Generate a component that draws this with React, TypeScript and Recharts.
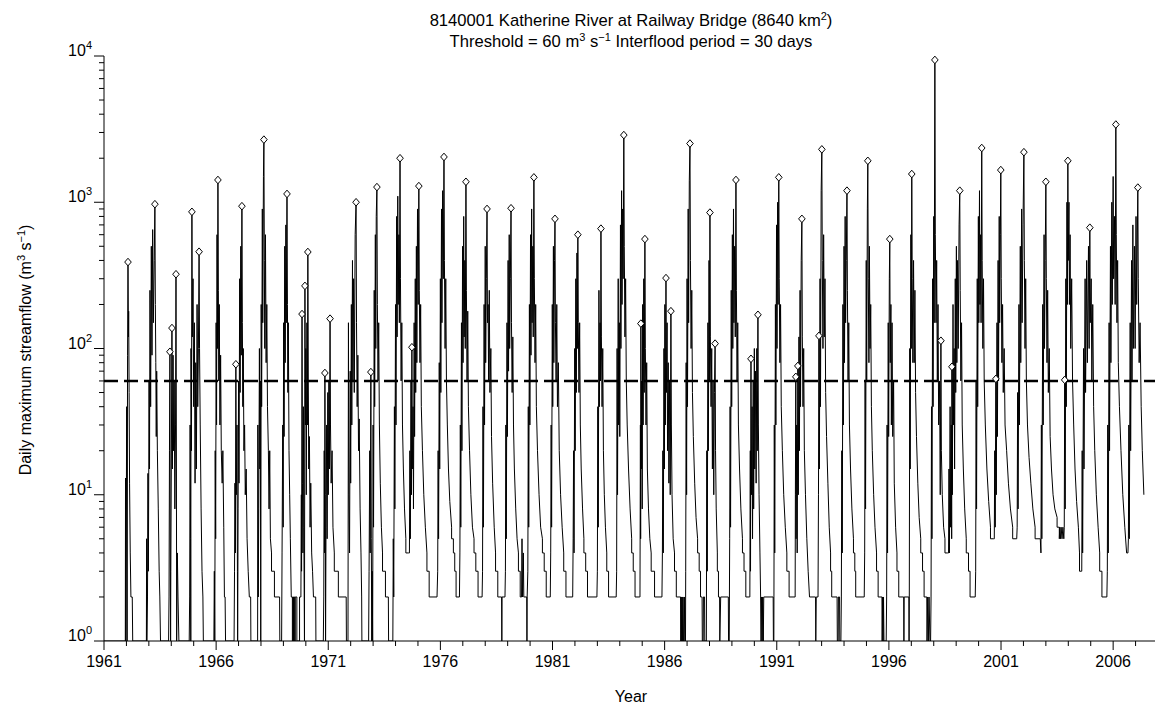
import React from 'react';
import { ComposedChart, Line, Scatter, XAxis, YAxis, ReferenceLine } from 'recharts';

// Daily maximum streamflow (m3/s), [decimal year, flow] pairs
const flow1960s: [number, number][] = [
  [1961.0,1],[1961.95,1],[1961.96,13],[1961.97,1],[1961.99,4],[1962.01,40],[1962.03,1],[1962.05,90],[1962.07,390],[1962.09,120],[1962.1,180],[1962.12,50],[1962.14,12],[1962.17,4],[1962.2,2],[1962.26,2],[1962.28,1],
  [1962.89,1],[1962.9,5],[1962.91,1],[1962.94,2],[1962.96,14],[1962.98,3],[1963.01,60],[1963.03,15],[1963.05,250],[1963.08,40],[1963.11,500],[1963.14,90],[1963.17,650],[1963.2,150],[1963.24,400],[1963.27,970],[1963.29,200],[1963.31,80],[1963.33,25],[1963.35,70],[1963.38,20],[1963.42,8],[1963.46,3],[1963.49,2],[1963.52,1],
  [1963.88,1],[1963.9,2],[1963.92,20],[1963.94,95],[1963.95,8],[1963.97,1],[1963.98,3],[1964.03,138],[1964.05,15],[1964.08,90],[1964.1,20],[1964.13,60],[1964.16,8],[1964.19,30],[1964.21,322],[1964.23,15],[1964.24,1],[1964.27,4],[1964.3,2],[1964.34,1],
  [1964.8,1],[1964.82,2],[1964.84,30],[1964.86,5],[1964.87,1],[1964.88,100],[1964.9,20],[1964.92,860],[1964.94,120],[1964.97,300],[1965.0,40],[1965.03,150],[1965.06,12],[1965.09,80],[1965.12,15],[1965.15,200],[1965.18,40],[1965.21,100],[1965.24,459],[1965.26,100],[1965.29,30],[1965.33,8],[1965.37,3],[1965.41,2],[1965.43,1],
  [1965.9,1],[1965.92,3],[1965.94,1],[1965.96,20],[1965.98,5],[1966.0,150],[1966.02,30],[1966.04,600],[1966.06,100],[1966.08,1420],[1966.1,250],[1966.12,60],[1966.14,200],[1966.17,30],[1966.2,90],[1966.23,20],[1966.27,12],[1966.3,20],[1966.34,6],[1966.37,2],[1966.4,2],[1966.42,1],
  [1966.8,1],[1966.82,3],[1966.84,12],[1966.86,4],[1966.88,78],[1966.9,10],[1966.93,30],[1966.95,3],[1966.96,1],[1966.98,8],[1967.0,60],[1967.02,12],[1967.05,300],[1967.07,50],[1967.1,500],[1967.12,90],[1967.15,940],[1967.17,150],[1967.19,40],[1967.21,100],[1967.24,20],[1967.27,30],[1967.3,10],[1967.34,15],[1967.38,5],[1967.43,3],[1967.48,2],[1967.54,2],[1967.55,1],
  [1967.85,1],[1967.86,30],[1967.88,2],[1967.9,8],[1967.93,100],[1967.95,15],[1967.97,60],[1967.99,1],[1968.01,200],[1968.03,40],[1968.06,900],[1968.08,150],[1968.11,1500],[1968.13,2680],[1968.15,400],[1968.17,100],[1968.2,600],[1968.23,80],[1968.26,200],[1968.29,40],[1968.33,20],[1968.36,8],[1968.39,20],[1968.42,5],[1968.47,4],[1968.47,3],[1968.6,3],[1968.6,2],[1968.83,2],[1968.84,1],
  [1968.92,1],[1968.94,4],[1968.97,30],[1968.99,6],[1969.01,150],[1969.03,25],[1969.06,500],[1969.08,80],[1969.11,700],[1969.13,150],[1969.16,1140],[1969.18,200],[1969.2,50],[1969.22,150],[1969.25,20],[1969.28,10],[1969.31,5],[1969.35,2],[1969.4,2],[1969.4,1],[1969.42,1],[1969.42,2],[1969.45,2],[1969.45,1],[1969.47,1],[1969.47,2],[1969.5,2],[1969.5,1],[1969.53,1],[1969.53,2],[1969.6,2],[1969.6,1],[1969.7,1],
];

const flow1970s: [number, number][] = [
  [1969.72,1],[1969.72,2],[1969.78,2],[1969.8,10],[1969.81,3],[1969.83,172],[1969.85,12],[1969.87,4],[1969.89,40],[1969.91,6],[1969.94,1],[1969.96,268],[1969.98,30],[1970.0,100],[1970.02,10],[1970.05,150],[1970.07,30],[1970.09,457],[1970.11,60],[1970.13,15],[1970.16,25],[1970.19,6],[1970.22,12],[1970.26,4],[1970.3,3],[1970.34,2],[1970.44,2],[1970.45,1],
  [1970.78,1],[1970.8,2],[1970.82,20],[1970.84,4],[1970.85,68],[1970.87,10],[1970.88,1],[1970.9,6],[1970.93,30],[1970.95,5],[1970.98,50],[1971.0,10],[1971.03,60],[1971.05,15],[1971.08,160],[1971.1,30],[1971.13,12],[1971.17,20],[1971.21,6],[1971.27,4],[1971.27,3],[1971.45,3],[1971.45,2],[1971.8,2],[1971.81,1],
  [1971.88,1],[1971.9,150],[1971.92,10],[1971.95,4],[1971.98,70],[1972.0,12],[1972.03,200],[1972.05,30],[1972.08,400],[1972.1,60],[1972.13,300],[1972.16,50],[1972.2,600],[1972.24,1000],[1972.26,150],[1972.29,40],[1972.32,90],[1972.35,20],[1972.38,33],[1972.42,8],[1972.46,4],[1972.49,2],[1972.5,1],[1972.75,1],
  [1972.8,1],[1972.82,3],[1972.85,20],[1972.87,4],[1972.9,69],[1972.92,5],[1972.94,1],[1972.96,3],[1972.98,1],[1973.0,30],[1973.02,6],[1973.05,250],[1973.07,40],[1973.1,600],[1973.12,100],[1973.14,800],[1973.17,1270],[1973.19,200],[1973.22,60],[1973.25,150],[1973.28,30],[1973.32,12],[1973.37,6],[1973.42,4],[1973.42,3],[1973.55,3],[1973.55,2],[1973.68,2],[1973.69,1],
  [1973.88,1],[1973.9,5],[1973.92,2],[1973.95,40],[1973.97,8],[1974.0,200],[1974.02,30],[1974.05,800],[1974.07,120],[1974.1,1100],[1974.12,200],[1974.15,600],[1974.17,150],[1974.2,2000],[1974.22,300],[1974.25,60],[1974.28,150],[1974.31,30],[1974.35,15],[1974.4,8],[1974.46,5],[1974.46,4],[1974.58,4],
  [1974.62,4],[1974.64,20],[1974.66,5],[1974.69,60],[1974.71,10],[1974.73,102],[1974.75,15],[1974.78,40],[1974.8,8],[1974.83,150],[1974.85,25],[1974.88,300],[1974.9,50],[1974.93,500],[1974.95,80],[1974.98,900],[1975.01,200],[1975.04,1290],[1975.06,250],[1975.09,80],[1975.12,200],[1975.15,40],[1975.2,20],[1975.26,10],[1975.33,6],[1975.4,4],[1975.4,3],[1975.5,3],[1975.5,2],[1975.85,2],
  [1975.88,3],[1975.9,20],[1975.92,5],[1975.95,80],[1975.97,15],[1976.0,300],[1976.02,50],[1976.05,900],[1976.07,150],[1976.1,1200],[1976.13,300],[1976.16,2040],[1976.18,400],[1976.21,100],[1976.24,300],[1976.27,60],[1976.31,30],[1976.36,15],[1976.42,9],[1976.5,6],[1976.5,5],[1976.58,5],[1976.58,4],[1976.64,4],[1976.64,3],[1976.7,3],[1976.7,2],[1976.85,2],
  [1976.87,4],[1976.89,30],[1976.91,6],[1976.94,150],[1976.96,20],[1976.99,500],[1977.01,80],[1977.04,800],[1977.06,120],[1977.09,400],[1977.11,100],[1977.14,1380],[1977.16,250],[1977.19,60],[1977.22,180],[1977.25,40],[1977.3,20],[1977.36,10],[1977.43,6],[1977.5,5],[1977.5,4],[1977.58,4],[1977.58,3],[1977.68,3],[1977.68,2],[1977.86,2],
  [1977.88,3],[1977.9,40],[1977.92,6],[1977.95,200],[1977.97,30],[1978.0,500],[1978.02,80],[1978.05,300],[1978.08,900],[1978.1,150],[1978.13,200],[1978.15,60],[1978.18,250],[1978.21,50],[1978.25,100],[1978.28,25],[1978.33,12],[1978.4,6],[1978.46,4],[1978.46,3],[1978.56,3],[1978.56,2],[1978.73,2],[1978.74,1],[1978.75,2],[1978.88,2],
  [1978.9,3],[1978.92,30],[1978.94,5],[1978.97,150],[1978.99,25],[1979.02,400],[1979.04,70],[1979.07,600],[1979.09,100],[1979.12,300],[1979.15,910],[1979.17,150],[1979.2,50],[1979.23,120],[1979.26,30],[1979.3,15],[1979.36,8],[1979.42,5],[1979.48,4],[1979.48,3],[1979.56,3],[1979.56,2],[1979.62,2],[1979.64,5],[1979.66,2],[1979.7,4],[1979.72,2],[1979.85,2],[1979.86,1],[1979.87,2],
];

const flow1980s: [number, number][] = [
  [1979.9,3],[1979.92,40],[1979.94,6],[1979.97,200],[1979.99,30],[1980.02,600],[1980.04,90],[1980.07,900],[1980.09,150],[1980.12,500],[1980.14,120],[1980.17,1480],[1980.19,300],[1980.22,80],[1980.25,200],[1980.28,40],[1980.33,20],[1980.4,10],[1980.47,6],[1980.55,5],[1980.55,4],[1980.63,4],[1980.63,3],[1980.72,3],[1980.72,2],[1980.9,2],
  [1980.92,4],[1980.94,30],[1980.96,6],[1980.99,200],[1981.01,40],[1981.04,500],[1981.06,80],[1981.09,400],[1981.11,770],[1981.13,150],[1981.16,60],[1981.19,200],[1981.22,40],[1981.26,80],[1981.3,20],[1981.36,10],[1981.43,6],[1981.5,4],[1981.5,3],[1981.6,3],[1981.6,2],[1981.9,2],
  [1981.92,5],[1981.94,20],[1981.96,4],[1981.99,100],[1982.01,20],[1982.04,300],[1982.06,50],[1982.09,450],[1982.11,100],[1982.13,600],[1982.15,150],[1982.18,50],[1982.21,150],[1982.24,30],[1982.28,15],[1982.34,8],[1982.4,5],[1982.4,4],[1982.48,4],[1982.48,3],[1982.56,3],[1982.56,2],[1982.98,2],
  [1983.0,3],[1983.02,40],[1983.04,6],[1983.07,250],[1983.09,40],[1983.12,150],[1983.14,60],[1983.16,660],[1983.18,120],[1983.21,40],[1983.24,100],[1983.27,20],[1983.31,10],[1983.36,6],[1983.42,4],[1983.42,3],[1983.5,3],[1983.5,2],[1983.84,2],
  [1983.86,3],[1983.88,100],[1983.9,10],[1983.93,300],[1983.95,30],[1983.98,150],[1984.0,25],[1984.03,700],[1984.05,100],[1984.08,1200],[1984.1,200],[1984.13,900],[1984.15,300],[1984.18,2880],[1984.2,500],[1984.23,120],[1984.26,300],[1984.29,60],[1984.33,30],[1984.39,15],[1984.46,8],[1984.53,5],[1984.53,4],[1984.6,4],[1984.6,3],[1984.68,3],[1984.68,2],[1984.88,2],
  [1984.9,2],[1984.92,30],[1984.93,5],[1984.94,148],[1984.96,15],[1984.98,60],[1985.0,8],[1985.02,200],[1985.04,30],[1985.07,300],[1985.09,50],[1985.12,560],[1985.14,100],[1985.17,30],[1985.2,80],[1985.23,15],[1985.28,8],[1985.34,5],[1985.4,4],[1985.4,3],[1985.55,3],[1985.55,2],[1985.88,2],
  [1985.9,4],[1985.92,20],[1985.94,4],[1985.97,100],[1985.99,15],[1986.01,200],[1986.03,30],[1986.06,303],[1986.08,50],[1986.11,150],[1986.13,20],[1986.16,80],[1986.19,12],[1986.22,60],[1986.25,10],[1986.28,180],[1986.3,30],[1986.33,10],[1986.38,5],[1986.44,4],[1986.44,3],[1986.52,3],[1986.52,2],[1986.71,2],[1986.72,1],[1986.74,2],[1986.76,1],[1986.78,2],[1986.8,1],[1986.82,2],[1986.84,1],[1986.86,1],[1986.88,2],[1986.9,1],[1986.93,1],
  [1986.94,3],[1986.96,80],[1986.98,10],[1987.0,300],[1987.02,40],[1987.05,900],[1987.07,150],[1987.1,1400],[1987.13,2520],[1987.15,400],[1987.18,100],[1987.21,250],[1987.24,50],[1987.28,25],[1987.34,12],[1987.4,7],[1987.47,5],[1987.47,4],[1987.54,4],[1987.54,3],[1987.6,3],[1987.6,2],[1987.67,2],[1987.68,1],[1987.72,1],[1987.73,2],[1987.78,2],[1987.79,1],[1987.84,1],
  [1987.86,1],[1987.88,20],[1987.9,3],[1987.93,150],[1987.95,20],[1987.98,400],[1988.0,60],[1988.02,850],[1988.04,120],[1988.07,40],[1988.1,100],[1988.13,15],[1988.16,60],[1988.19,10],[1988.22,50],[1988.25,108],[1988.27,20],[1988.3,8],[1988.35,4],[1988.35,3],[1988.4,3],[1988.4,2],[1988.45,2],[1988.46,1],[1988.5,2],[1988.84,2],[1988.85,1],
  [1988.88,1],[1988.9,5],[1988.92,40],[1988.94,6],[1988.97,250],[1988.99,40],[1989.02,600],[1989.04,100],[1989.07,900],[1989.09,150],[1989.12,500],[1989.15,120],[1989.18,1420],[1989.2,250],[1989.23,60],[1989.26,150],[1989.29,30],[1989.34,15],[1989.4,8],[1989.47,5],[1989.47,4],[1989.54,4],[1989.54,3],[1989.62,3],[1989.62,2],[1989.78,2],
];

const flow1990s: [number, number][] = [
  [1989.8,2],[1989.82,20],[1989.83,3],[1989.85,85],[1989.87,10],[1989.9,40],[1989.92,5],[1989.95,60],[1989.97,8],[1990.0,100],[1990.02,15],[1990.05,70],[1990.08,12],[1990.11,100],[1990.13,20],[1990.16,170],[1990.18,30],[1990.21,10],[1990.25,4],[1990.28,2],[1990.3,1],[1990.32,2],[1990.35,1],[1990.37,2],[1990.4,1],[1990.42,2],[1990.84,2],[1990.85,1],
  [1990.87,1],[1990.89,30],[1990.91,4],[1990.94,200],[1990.96,30],[1990.99,700],[1991.01,100],[1991.04,1000],[1991.06,200],[1991.09,1480],[1991.11,300],[1991.14,80],[1991.17,200],[1991.2,40],[1991.25,20],[1991.31,10],[1991.38,6],[1991.45,4],[1991.45,3],[1991.55,3],[1991.55,2],[1991.82,2],
  [1991.83,10],[1991.85,64],[1991.86,5],[1991.89,30],[1991.91,4],[1991.94,76],[1991.96,10],[1991.99,120],[1992.01,20],[1992.04,250],[1992.06,40],[1992.09,400],[1992.12,770],[1992.14,120],[1992.17,40],[1992.2,100],[1992.23,20],[1992.28,10],[1992.34,5],[1992.4,3],[1992.46,2],[1992.73,2],[1992.74,1],[1992.76,2],[1992.84,2],
  [1992.86,10],[1992.88,122],[1992.9,15],[1992.93,300],[1992.95,40],[1992.98,1200],[1993.01,2300],[1993.03,400],[1993.06,100],[1993.09,600],[1993.12,120],[1993.15,300],[1993.18,50],[1993.22,25],[1993.28,12],[1993.34,6],[1993.4,4],[1993.4,3],[1993.45,3],[1993.45,2],[1993.69,2],[1993.7,1],[1993.74,1],[1993.75,2],[1993.8,2],[1993.81,1],[1993.86,1],
  [1993.88,2],[1993.9,20],[1993.92,4],[1993.95,200],[1993.97,30],[1994.0,500],[1994.02,80],[1994.05,800],[1994.07,150],[1994.1,400],[1994.13,1200],[1994.15,250],[1994.18,60],[1994.21,150],[1994.24,30],[1994.29,15],[1994.35,8],[1994.42,5],[1994.42,4],[1994.48,4],[1994.48,3],[1994.52,3],[1994.52,2],[1994.9,2],
  [1994.92,4],[1994.94,60],[1994.96,8],[1994.99,400],[1995.01,60],[1995.04,900],[1995.06,1920],[1995.08,300],[1995.11,80],[1995.13,500],[1995.16,100],[1995.19,200],[1995.22,40],[1995.26,20],[1995.32,10],[1995.38,6],[1995.45,4],[1995.45,3],[1995.52,3],[1995.52,2],[1995.69,2],[1995.7,1],[1995.72,2],[1995.74,1],[1995.76,2],[1995.78,1],[1995.82,1],
  [1995.88,1],[1995.9,2],[1995.92,30],[1995.94,4],[1995.97,150],[1995.99,25],[1996.02,300],[1996.04,560],[1996.06,80],[1996.09,200],[1996.11,30],[1996.14,150],[1996.17,25],[1996.21,60],[1996.24,12],[1996.3,6],[1996.36,4],[1996.36,3],[1996.44,3],[1996.44,2],[1996.66,2],[1996.67,1],[1996.68,2],[1996.89,2],[1996.9,1],
  [1996.91,2],[1996.93,100],[1996.95,15],[1996.98,600],[1997.0,100],[1997.02,1560],[1997.04,300],[1997.07,80],[1997.1,400],[1997.13,80],[1997.16,250],[1997.19,50],[1997.23,25],[1997.29,12],[1997.35,7],[1997.42,5],[1997.42,4],[1997.5,4],[1997.5,3],[1997.57,3],[1997.57,2],[1997.69,2],[1997.7,1],[1997.73,2],[1997.76,1],[1997.79,2],[1997.83,1],[1997.86,1],
  [1997.88,2],[1997.9,40],[1997.92,5],[1997.95,300],[1997.97,40],[1998.0,800],[1998.02,150],[1998.05,9400],[1998.07,600],[1998.1,150],[1998.13,400],[1998.16,60],[1998.19,200],[1998.22,30],[1998.26,60],[1998.29,10],[1998.32,113],[1998.34,20],[1998.38,10],[1998.44,6],[1998.5,5],[1998.5,4],[1998.62,4],
  [1998.66,4],[1998.68,15],[1998.7,4],[1998.73,40],[1998.75,6],[1998.78,30],[1998.8,5],[1998.81,75],[1998.83,10],[1998.86,200],[1998.88,30],[1998.91,100],[1998.93,15],[1998.96,300],[1998.98,50],[1999.01,500],[1999.03,80],[1999.06,400],[1999.09,100],[1999.13,700],[1999.16,1200],[1999.18,250],[1999.21,60],[1999.24,150],[1999.27,30],[1999.32,15],[1999.38,8],[1999.45,5],[1999.45,4],[1999.55,4],[1999.55,3],[1999.62,3],[1999.62,2],[1999.85,2],
];

const flow2000s: [number, number][] = [
  [1999.87,3],[1999.89,60],[1999.91,8],[1999.94,300],[1999.96,40],[1999.99,800],[2000.01,150],[2000.04,1200],[2000.06,200],[2000.09,600],[2000.11,150],[2000.14,2350],[2000.16,400],[2000.19,100],[2000.22,300],[2000.25,60],[2000.3,30],[2000.37,15],[2000.45,9],[2000.53,6],[2000.53,5],[2000.66,5],
  [2000.7,5],[2000.72,20],[2000.74,6],[2000.77,62],[2000.79,10],[2000.82,150],[2000.84,25],[2000.87,400],[2000.89,60],[2000.92,800],[2000.94,150],[2000.97,600],[2000.99,1660],[2001.01,300],[2001.04,80],[2001.07,200],[2001.1,50],[2001.14,100],[2001.18,30],[2001.25,20],[2001.33,12],[2001.42,8],[2001.52,6],[2001.52,5],[2001.7,5],
  [2001.72,6],[2001.74,50],[2001.76,8],[2001.8,200],[2001.82,30],[2001.86,500],[2001.88,80],[2001.92,900],[2001.94,150],[2001.98,700],[2002.02,2200],[2002.04,400],[2002.07,100],[2002.1,300],[2002.13,60],[2002.18,30],[2002.25,18],[2002.33,12],[2002.42,8],[2002.52,6],[2002.52,5],[2002.75,5],
  [2002.78,4],[2002.8,30],[2002.82,5],[2002.86,200],[2002.88,30],[2002.92,600],[2002.94,100],[2002.97,400],[2003.0,1380],[2003.02,300],[2003.05,80],[2003.08,250],[2003.11,50],[2003.15,100],[2003.19,25],[2003.25,15],[2003.32,10],[2003.4,8],[2003.5,7],[2003.5,6],[2003.6,6],[2003.6,5],[2003.62,6],[2003.65,5],[2003.68,6],[2003.72,5],[2003.76,6],[2003.8,5],
  [2003.82,6],[2003.84,61],[2003.86,8],[2003.89,300],[2003.91,40],[2003.94,1000],[2003.96,200],[2003.98,1920],[2004.0,400],[2004.03,1000],[2004.05,200],[2004.08,600],[2004.11,100],[2004.15,300],[2004.19,60],[2004.24,30],[2004.3,15],[2004.37,9],[2004.45,6],[2004.5,4],[2004.5,3],[2004.58,3],
  [2004.6,3],[2004.62,20],[2004.64,4],[2004.68,100],[2004.7,15],[2004.75,300],[2004.77,50],[2004.82,400],[2004.85,80],[2004.9,500],[2004.93,100],[2004.96,670],[2004.98,150],[2005.02,300],[2005.05,60],[2005.09,200],[2005.13,40],[2005.18,20],[2005.25,10],[2005.33,6],[2005.4,4],[2005.4,3],[2005.5,3],[2005.5,2],[2005.72,2],
  [2005.74,3],[2005.76,30],[2005.78,4],[2005.82,150],[2005.84,20],[2005.88,500],[2005.9,80],[2005.94,1000],[2005.96,200],[2006.0,1500],[2006.02,300],[2006.06,800],[2006.09,200],[2006.12,3400],[2006.14,600],[2006.17,150],[2006.2,400],[2006.23,80],[2006.28,40],[2006.35,20],[2006.43,10],[2006.52,6],[2006.6,4],[2006.66,4],
  [2006.68,5],[2006.7,30],[2006.72,5],[2006.76,150],[2006.78,20],[2006.82,400],[2006.84,60],[2006.88,700],[2006.9,100],[2006.95,500],[2006.98,100],[2007.02,800],[2007.05,200],[2007.1,1260],[2007.12,300],[2007.16,80],[2007.2,150],[2007.25,40],[2007.3,20],[2007.37,10],
];

// Peaks over threshold (diamonds)
const peakTimes = [1962.07,1963.27,1963.94,1964.03,1964.21,1964.92,1965.24,1966.08,1966.88,1967.15,1968.13,1969.16,1969.83,1969.96,1970.09,1970.85,1971.08,1972.24,1972.9,1973.17,1974.2,1974.73,1975.04,1976.16,1977.14,1978.08,1979.15,1980.17,1981.11,1982.13,1983.16,1984.18,1984.94,1985.12,1986.06,1986.28,1987.13,1988.02,1988.25,1989.18,1989.85,1990.16,1991.09,1991.85,1991.94,1992.12,1992.88,1993.01,1994.13,1995.06,1996.04,1997.02,1998.05,1998.32,1998.81,1999.16,2000.14,2000.77,2000.99,2002.02,2003.0,2003.84,2003.98,2004.96,2006.12,2007.1];
const peakValues = [390,970,95,138,322,860,459,1420,78,940,2680,1140,172,268,457,68,160,1000,69,1270,2000,102,1290,2040,1380,900,910,1480,770,600,660,2880,148,560,303,180,2520,850,108,1420,85,170,1480,64,76,770,122,2300,1200,1920,560,1560,9400,113,75,1200,2350,62,1660,2200,1380,61,1920,670,3400,1260];

const threshold = 60;
const yearTicks = Array.from({ length: 48 }, (_, i) => 1961 + i);
const flowTicks = [1,2,3,4,5,6,7,8,9,10,20,30,40,50,60,70,80,90,100,200,300,400,500,600,700,800,900,1000,2000,3000,4000,5000,6000,7000,8000,9000,10000];

const flowData = [...flow1960s, ...flow1970s, ...flow1980s, ...flow1990s, ...flow2000s].map(([t, v]) => ({ t, v }));
const peakData = peakTimes.map((t, i) => ({ t, v: peakValues[i] }));

const FONT = '"Liberation Sans", Arial, Helvetica, sans-serif';

const XTick = (props: any) => {
  const { x, y, payload } = props;
  const v = payload.value;
  const major = (v - 1961) % 5 === 0;
  return (
    <g>
      <line x1={x} y1={y} x2={x} y2={y + (major ? 9 : 5)} stroke="#000" strokeWidth={1} />
      {major && (
        <text x={x} y={y + 26} textAnchor="middle" fontSize={16} fontFamily={FONT} fill="#000">{v}</text>
      )}
    </g>
  );
};

const YTick = (props: any) => {
  const { x, y, payload } = props;
  const v = payload.value;
  const e = Math.log10(v);
  const major = Math.abs(e - Math.round(e)) < 1e-6;
  return (
    <g>
      <line x1={x - (major ? 10 : 5)} y1={y} x2={x} y2={y} stroke="#000" strokeWidth={1} />
      {major && (
        <text x={x - 12} y={y} textAnchor="end" fontSize={16} fontFamily={FONT} fill="#000">
          10<tspan dy={-7} fontSize={11}>{Math.round(e)}</tspan>
        </text>
      )}
    </g>
  );
};

const Diamond = (props: any) => {
  const { cx, cy } = props;
  if (cx == null || cy == null) return null;
  return (
    <polygon
      points={`${cx},${cy - 3.8} ${cx + 3.3},${cy} ${cx},${cy + 3.8} ${cx - 3.3},${cy}`}
      fill="#fff"
      stroke="#000"
      strokeWidth={1}
    />
  );
};

export default function App() {
  const W = 1155;
  const H = 703;
  return (
    <div style={{ position: 'relative', width: W, height: H }}>
      <ComposedChart width={W} height={H} margin={{ top: 48, right: 5, bottom: 40, left: 36 }}>
        <XAxis
          type="number"
          dataKey="t"
          domain={[1961, 2008]}
          ticks={yearTicks}
          interval={0}
          allowDataOverflow
          tick={XTick}
          tickLine={false}
          tickSize={0}
          tickMargin={0}
          height={30}
          axisLine={{ stroke: '#000', strokeWidth: 1 }}
        />
        <YAxis
          type="number"
          scale="log"
          domain={[1, 10000]}
          ticks={flowTicks}
          interval={0}
          allowDataOverflow
          tick={YTick}
          tickLine={false}
          tickSize={0}
          tickMargin={0}
          width={60}
          axisLine={{ stroke: '#000', strokeWidth: 1 }}
        />
        <Line
          data={flowData}
          dataKey="v"
          type="linear"
          stroke="#000"
          strokeWidth={1}
          dot={false}
          activeDot={false}
          isAnimationActive={false}
        />
        <ReferenceLine y={threshold} stroke="#000" strokeWidth={2.5} strokeDasharray="14 6" />
        <Scatter data={peakData} dataKey="v" shape={Diamond} isAnimationActive={false} />
      </ComposedChart>
      <svg
        width={W}
        height={H}
        style={{ position: 'absolute', left: 0, top: 0, pointerEvents: 'none' }}
        fontFamily={FONT}
      >
        <text x={623} y={18} textAnchor="middle" fontSize={16.6} fill="#000">
          8140001 Katherine River at Railway Bridge (8640 km<tspan dy={-6} fontSize={11}>2</tspan><tspan dy={6}>)</tspan>
        </text>
        <text x={623} y={39} textAnchor="middle" fontSize={16.6} fill="#000">
          Threshold = 60 m<tspan dy={-6} fontSize={11}>3</tspan><tspan dy={6}> s</tspan><tspan dy={-6} fontSize={11}>−1</tspan><tspan dy={6}> Interflood period = 30 days</tspan>
        </text>
        <text x={623} y={694} textAnchor="middle" fontSize={16} fill="#000">Year</text>
        <text transform="translate(23,342) rotate(-90)" textAnchor="middle" fontSize={16} fill="#000">
          Daily maximum streamflow (m<tspan dy={-6} fontSize={11}>3</tspan><tspan dy={6}> s</tspan><tspan dy={-6} fontSize={11}>−1</tspan><tspan dy={6}>)</tspan>
        </text>
      </svg>
    </div>
  );
}
